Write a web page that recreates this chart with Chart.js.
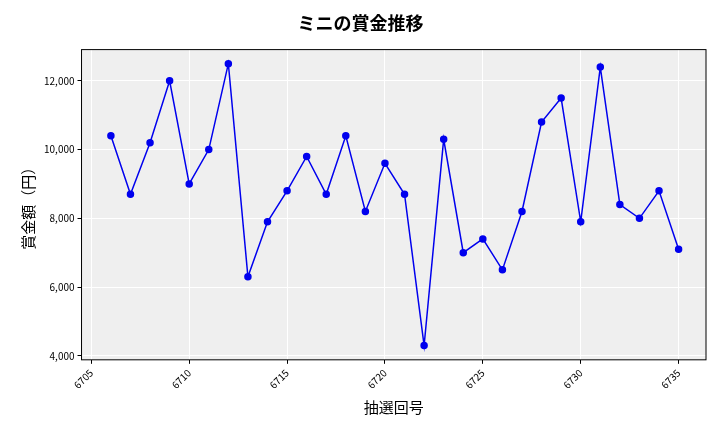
<!DOCTYPE html>
<html><head><meta charset="utf-8">
<script src="https://cdn.jsdelivr.net/npm/chart.js@4"></script>
<style>body{margin:0;background:#fff}#w{width:720px;height:432px}</style>
</head><body><div id="w"><canvas id="c"></canvas></div>
<script>
const draws=[6706,6707,6708,6709,6710,6711,6712,6713,6714,6715,6716,6717,6718,6719,6720,6721,6722,6723,6724,6725,6726,6727,6728,6729,6730,6731,6732,6733,6734,6735];
const prizes=[10400,8700,10200,12000,9000,10000,12500,6300,7900,8800,9800,8700,10400,8200,9600,8700,4300,10300,7000,7400,6500,8200,10800,11500,7900,12400,8400,8000,8800,7100];
const F="'Noto Sans CJK JP','Noto Sans',sans-serif";
const bg={id:'bg',beforeDraw(c){const a=c.chartArea,x=c.ctx;x.save();x.fillStyle='#efefef';x.fillRect(a.left,a.top,a.right-a.left,a.bottom-a.top);x.restore();},
afterDraw(c){const a=c.chartArea,x=c.ctx;x.save();x.strokeStyle='#000';x.lineWidth=1;x.strokeRect(a.left,a.top,a.right-a.left,a.bottom-a.top);x.restore();}};
new Chart(document.getElementById('c'),{type:'line',
data:{datasets:[{data:draws.map((d,i)=>({x:d,y:prizes[i]})),borderColor:'#0000ee',backgroundColor:'#0000ee',borderWidth:1.5,pointRadius:3,tension:0}]},
options:{responsive:true,maintainAspectRatio:false,animation:false,
layout:{padding:{left:15,right:14,top:8,bottom:12}},
plugins:{legend:{display:false},title:{display:true,text:'ミニの賞金推移',font:{family:F,size:18,weight:'bold'},color:'#000',padding:{top:4,bottom:16}}},
scales:{x:{type:'linear',min:6704.5,max:6736.4,afterBuildTicks(s){s.ticks=[6705,6710,6715,6720,6725,6730,6735].map(v=>({value:v}));},
ticks:{maxRotation:45,minRotation:45,font:{family:F,size:10},color:'#000',callback:v=>String(v)},
grid:{color:'#fff',drawTicks:true,tickColor:'#000',tickLength:4},border:{display:false},
title:{display:true,text:'抽選回号',font:{family:F,size:15},color:'#000'}},
y:{min:3883,max:12909,afterBuildTicks(s){s.ticks=[4000,6000,8000,10000,12000].map(v=>({value:v}));},
ticks:{font:{family:F,size:10},color:'#000',callback:v=>v.toLocaleString('en-US')},
grid:{color:'#fff',tickColor:'#000',tickLength:4},border:{display:false},
title:{display:true,text:'賞金額（円）',font:{family:F,size:15},color:'#000'}}}},
plugins:[bg]});
</script></body></html>
